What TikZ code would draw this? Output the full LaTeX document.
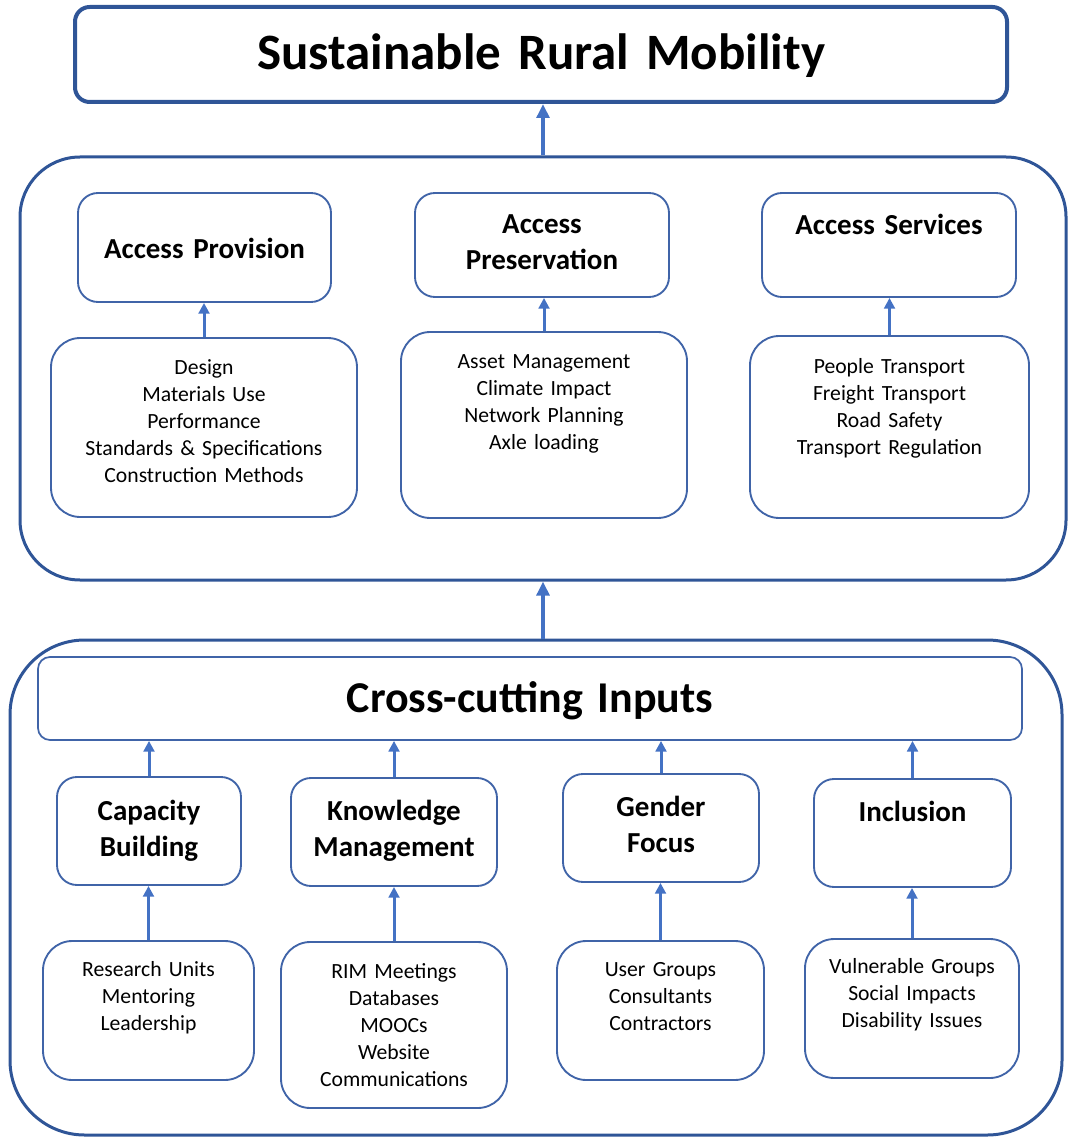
\documentclass[tikz,border=0pt]{standalone}
\usepackage{fontspec}
\setmainfont{Carlito}
\usetikzlibrary{arrows.meta}
\definecolor{framec}{RGB}{47,85,151}
\definecolor{boxc}{RGB}{64,100,168}
\definecolor{arrowc}{RGB}{68,114,196}

\begin{document}
\begin{tikzpicture}[
  x=0.75pt, y=-0.75pt,
  block_title/.style={rectangle, draw=framec, line width=3pt, rounded corners=11pt,
    inner sep=0pt, align=center, font=\fontsize{38.25}{46}\selectfont\bfseries},
  block_frame/.style={rectangle, draw=framec, line width=2.25pt, inner sep=0pt},
  block_cross/.style={rectangle, draw=boxc, line width=1.3pt, rounded corners=9pt,
    inner sep=0pt, align=center, font=\fontsize{33}{40}\selectfont\bfseries},
  block_head/.style={rectangle, draw=boxc, line width=1.4pt, rounded corners=15pt,
    inner sep=0pt, align=center, font=\fontsize{21.75}{27}\selectfont\bfseries},
  block_list/.style={rectangle, draw=boxc, line width=1.4pt, rounded corners=22pt,
    inner sep=0pt, align=center, font=\fontsize{16.25}{20.25}\selectfont},
  line_small/.style={draw=arrowc, line width=2.25pt, -{Triangle[width=8pt, length=8pt]}},
  line_big/.style={draw=arrowc, line width=3pt, -{Triangle[width=9.5pt, length=10.5pt]}}
  ]
\useasboundingbox (0,0) rectangle (1068,1137);

% goal
\node [block_title, text width=699pt, text height=47.25pt, text depth=24pt] (title) at (541,54.5) {Sustainable Rural Mobility};

% access layer
\node [block_frame, rounded corners=45pt, minimum width=784.5pt, minimum height=317.25pt] (mid) at (543,368.5) {};

\node [block_head, text width=189.75pt, text height=49.5pt, text depth=32.25pt] (prov) at (204.5,247.5) {Access Provision};
\node [block_head, text width=190.5pt, text height=30.75pt, text depth=47.25pt] (pres) at (542,245) {Access\\Preservation};
\node [block_head, text width=190.5pt, text height=31.5pt, text depth=46.5pt] (serv) at (889,245) {Access Services};

\node [block_list, text width=229.5pt, text height=27pt, text depth=107.25pt] (provlist) at (204,427.5)
  {Design\\Materials Use\\Performance\\Standards \& Specifications\\Construction Methods};
\node [block_list, text width=214.5pt, text height=27pt, text depth=112.5pt] (preslist) at (544,425)
  {Asset Management\\Climate Impact\\Network Planning\\Axle loading};
\node [block_list, text width=209.25pt, text height=27.75pt, text depth=108.75pt] (servlist) at (889.5,427)
  {People Transport\\Freight Transport\\Road Safety\\Transport Regulation};

% inputs layer
\node [block_frame, rounded corners=56pt, minimum width=789pt, minimum height=371.25pt] (base) at (536,887.5) {};

\node [block_cross, text width=738pt, text height=41.25pt, text depth=21pt] (cross) at (530,698.5) {Cross-cutting Inputs};

\node [block_head, text width=138pt, text height=32.25pt, text depth=48.75pt] (cap) at (149,831) {Capacity\\Building};
\node [block_head, text width=154.5pt, text height=31.5pt, text depth=49.5pt] (know) at (394,832) {Knowledge\\Management};
\node [block_head, text width=147pt, text height=31.5pt, text depth=49.5pt] (gend) at (661,828) {Gender\\Focus};
\node [block_head, text width=147.75pt, text height=31.5pt, text depth=49.5pt] (incl) at (912.5,833) {Inclusion};

\node [block_list, text width=158.25pt, text height=26.25pt, text depth=78pt] (reslist) at (148.5,1010.5)
  {Research Units\\Mentoring\\Leadership};
\node [block_list, text width=169.5pt, text height=27pt, text depth=97.5pt] (rimlist) at (394,1025)
  {RIM Meetings\\Databases\\MOOCs\\Website\\Communications};
\node [block_list, text width=155.25pt, text height=26.25pt, text depth=78pt] (userlist) at (660.5,1010.5)
  {User Groups\\Consultants\\Contractors};
\node [block_list, text width=160.5pt, text height=25.5pt, text depth=78.75pt] (vulnlist) at (912,1008.5)
  {Vulnerable Groups\\Social Impacts\\Disability Issues};

% arrows
\path [line_big] (mid.north) -- (mid.north |- title.south);
\path [line_big] (base.north -| mid.north) -- (mid.south);

\path [line_small] (provlist.north) -- (provlist.north |- prov.south);
\path [line_small] (preslist.north) -- (preslist.north |- pres.south);
\path [line_small] (servlist.north) -- (servlist.north |- serv.south);

\path [line_small] (cap.north) -- (cap.north |- cross.south);
\path [line_small] (know.north) -- (know.north |- cross.south);
\path [line_small] (gend.north) -- (gend.north |- cross.south);
\path [line_small] (incl.north) -- (incl.north |- cross.south);

\path [line_small] (reslist.north) -- (reslist.north |- cap.south);
\path [line_small] (rimlist.north) -- (rimlist.north |- know.south);
\path [line_small] (userlist.north) -- (userlist.north |- gend.south);
\path [line_small] (vulnlist.north) -- (vulnlist.north |- incl.south);

\end{tikzpicture}
\end{document}
